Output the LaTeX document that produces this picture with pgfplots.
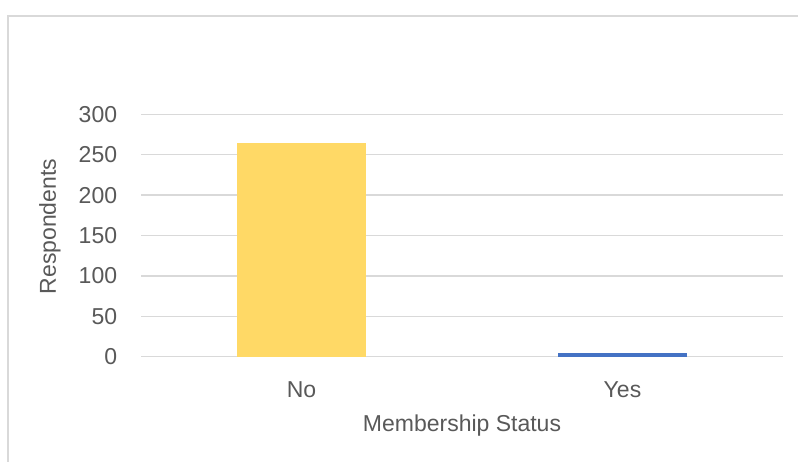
\documentclass[border=0pt]{standalone}
\usepackage{pgfplots}
\pgfplotsset{compat=1.18}
\usepackage{fontspec}
\setmainfont{Liberation Sans}
\definecolor{txtc}{HTML}{595959}
\definecolor{gridc}{HTML}{D9D9D9}
\definecolor{barY}{HTML}{FFD966}
\definecolor{barB}{HTML}{4472C4}
\begin{document}
\fontsize{23bp}{27bp}\selectfont
\begin{tikzpicture}
\useasboundingbox (0,0) rectangle (798bp,462bp);
\clip (0,0) rectangle (798bp,462bp);
\fill[white] (0,0) rectangle (798bp,462bp);
\draw[gridc, line width=1.3bp] (8bp,-5bp) -- (8bp,446bp) -- (810bp,446bp);
\begin{axis}[
  at={(141bp,105.3bp)}, anchor=south west,
  scale only axis, width=642bp, height=242.4bp,
  xmin=-0.5, xmax=1.5, ymin=0, ymax=300,
  ytick={0,50,...,300},
  xtick={0,1}, xticklabels={No,Yes},
  xmajorgrids=false, ymajorgrids=true,
  major grid style={draw=gridc, line width=1.3bp},
  axis line style={draw=none},
  tick style={draw=none},
  /pgf/number format/assume math mode=true,
  ybar, bar width=129bp,
  every tick label/.append style={text=txtc, font=\fontsize{23bp}{27bp}\selectfont},
  yticklabel style={inner sep=0pt, anchor=east, xshift=-23.7bp},
  xticklabel style={inner sep=0pt, anchor=north, yshift=-21bp},
  xlabel={Membership Status},
  ylabel={Respondents},
  label style={text=txtc, font=\fontsize{23bp}{27bp}\selectfont},
  xlabel style={at={(axis description cs:0.5,-0.2405)}, anchor=north, inner sep=0pt},
  ylabel style={at={(axis description cs:-0.1417,0.537)}, anchor=center, inner sep=0pt},
]
\addplot[fill=barY, draw=none, bar shift=0pt] coordinates {(0,264)};
\addplot[fill=barB, draw=none, bar shift=0pt] coordinates {(1,5)};
\end{axis}
\end{tikzpicture}
\end{document}
